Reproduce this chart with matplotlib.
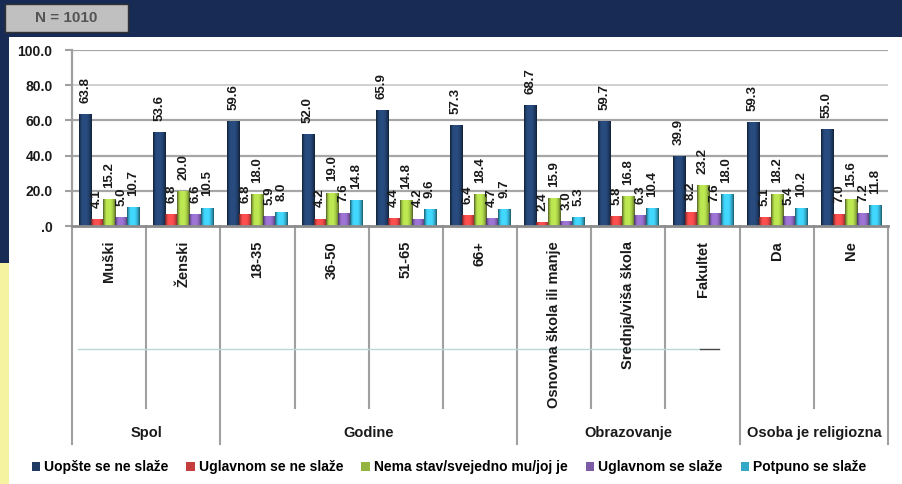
import numpy as np
import matplotlib
matplotlib.use('Agg')
import matplotlib.pyplot as plt
from matplotlib.patches import Rectangle
from matplotlib.lines import Line2D
from matplotlib.colors import to_rgb
from matplotlib.transforms import blended_transform_factory

plt.rcParams['font.family'] = ['Liberation Sans', 'DejaVu Sans']

# podaci
kategorije = ['Muški', 'Ženski', '18-35', '36-50', '51-65', '66+',
              'Osnovna škola ili manje', 'Srednja/viša škola', 'Fakultet', 'Da', 'Ne']
grupe = ['Spol', 'Godine', 'Obrazovanje', 'Osoba je religiozna']
granice_grupa = [0, 2, 6, 9, 11]

serije = ['Uopšte se ne slaže', 'Uglavnom se ne slaže', 'Nema stav/svejedno mu/joj je',
          'Uglavnom se slaže', 'Potpuno se slaže']
uopste_ne = [63.8, 53.6, 59.6, 52.0, 65.9, 57.3, 68.7, 59.7, 39.9, 59.3, 55.0]
uglavnom_ne = [4.1, 6.8, 6.8, 4.2, 4.4, 6.4, 2.4, 5.8, 8.2, 5.1, 7.0]
nema_stav = [15.2, 20.0, 18.0, 19.0, 14.8, 18.4, 15.9, 16.8, 23.2, 18.2, 15.6]
uglavnom_da = [5.0, 6.6, 5.9, 7.6, 4.2, 4.7, 3.0, 6.3, 7.6, 5.4, 7.2]
potpuno_da = [10.7, 10.5, 8.0, 14.8, 9.6, 9.7, 5.3, 10.4, 18.0, 10.2, 11.8]
vrijednosti = [uopste_ne, uglavnom_ne, nema_stav, uglavnom_da, potpuno_da]
boje = ['#1f3b63', '#c63d3d', '#93b43f', '#7b5ba6', '#33a8c7']

W, H = 903, 484
fig = plt.figure(figsize=(W / 100, H / 100), dpi=100, facecolor='#172b54')

# pozadina
fig.patches.append(Rectangle((9 / W, 0), 1, 1 - 37 / H, transform=fig.transFigure,
                             facecolor='white', edgecolor='none', zorder=-3))
fig.patches.append(Rectangle((0, 0), 9 / W, 1 - 263 / H, transform=fig.transFigure,
                             facecolor='#f5f2a0', edgecolor='none', zorder=-3))
fig.patches.append(Rectangle((5 / W, 1 - 32 / H), 123 / W, 28 / H, transform=fig.transFigure,
                             facecolor='#c0c0c0', edgecolor='#333333', lw=1, zorder=-2))
fig.text(66 / W, 1 - 18 / H, 'N = 1010', ha='center', va='center',
         fontsize=11, fontweight='bold', color='#555555')

ax = fig.add_axes([72 / W, 1 - 226 / H, (888 - 72) / W, (226 - 50) / H])
ax.set_facecolor('none')


def gradijent(c):
    # cilindricni efekt: tamni rubovi, svjetlija sredina
    base = np.array(to_rgb(c))
    t = np.linspace(0, 1, 24)
    f = 0.55 + 0.75 * np.sin(np.pi * t) ** 0.8
    f = np.where(t < 0.4, f + 0.15 * np.sin(np.pi * t / 0.4), f)
    img = np.clip(base[None, :] * f[:, None], 0, 1)
    return img[None, :, :]


x = np.arange(len(kategorije))
w = 0.162
for i, (vals, c) in enumerate(zip(vrijednosti, boje)):
    pos = x + (i - 2) * w
    bars = ax.bar(pos, vals, width=w, color=c, edgecolor='none', zorder=3)
    img = gradijent(c)
    for b in bars:
        im = ax.imshow(img, extent=(b.get_x(), b.get_x() + b.get_width(), 0, b.get_height()),
                       aspect='auto', zorder=3.2, interpolation='bilinear')
        im.set_clip_path(b)
    for px, v in zip(pos, vals):
        ax.annotate(f'{v:.1f}', (px, v), xytext=(0, 8), textcoords='offset points',
                    rotation=90, ha='center', va='bottom', fontsize=9.5,
                    fontweight='bold', color='#1a1a1a', zorder=4)

ax.set_xlim(-0.5, len(kategorije) - 0.5)
ax.set_ylim(0, 100)
ax.set_yticks([0, 20, 40, 60, 80, 100])
ax.set_yticklabels(['.0', '20.0', '40.0', '60.0', '80.0', '100.0'],
                   fontsize=10, fontweight='bold', color='#1a1a1a')
ax.tick_params(axis='y', length=5, color='#a0a0a0', width=1.5, pad=9)
ax.set_xticks([])
for t in [20, 40, 60, 100]:
    ax.axhline(t, color='#a6a6a6', lw=1.6, zorder=1)
ax.axhline(80, color='#d0d0d0', lw=1.4, zorder=1)
for s in ['top', 'right']:
    ax.spines[s].set_visible(False)
ax.spines['left'].set_color('#a0a0a0')
ax.spines['left'].set_linewidth(1.6)
ax.spines['bottom'].set_color('#8c8c8c')
ax.spines['bottom'].set_linewidth(2)
ax.spines['bottom'].set_zorder(5)

# oznake kategorija i grupa
tr = blended_transform_factory(ax.transData, fig.transFigure)
y0 = 1 - 226 / H
for k in range(len(kategorije) + 1):
    y1 = 1 - (444 if k in granice_grupa else 408) / H
    ax.add_line(Line2D([k - 0.5, k - 0.5], [y0, y1], transform=tr, color='#a0a0a0',
                       lw=1.5, clip_on=False))
for k, lab in enumerate(kategorije):
    ax.text(k, 1 - 241 / H, lab, transform=tr, rotation=90, ha='center', va='top',
            fontsize=10.5, fontweight='bold', color='#1a1a1a')
for g, lab in enumerate(grupe):
    c = (granice_grupa[g] + granice_grupa[g + 1]) / 2 - 0.5
    ax.text(c, 1 - 433 / H, lab, transform=tr, ha='center', va='center',
            fontsize=10.5, fontweight='bold', color='#1a1a1a')

ax.add_line(Line2D([-0.42, 7.96], [1 - 349 / H] * 2, transform=tr, color='#b9d9d9',
                   lw=1, clip_on=False))
ax.add_line(Line2D([7.96, 8.22], [1 - 349 / H] * 2, transform=tr, color='#444444',
                   lw=1, clip_on=False))

handles = [Rectangle((0, 0), 1, 1, facecolor=c, edgecolor='none') for c in boje]
fig.legend(handles, serije, loc='center', bbox_to_anchor=(449 / W, 1 - 467 / H), ncol=5,
           frameon=False, handlelength=0.6, handleheight=0.6, handletextpad=0.3,
           columnspacing=1.3, prop={'weight': 'bold', 'size': 10})

fig.savefig('out.png', dpi=100, facecolor=fig.get_facecolor())
